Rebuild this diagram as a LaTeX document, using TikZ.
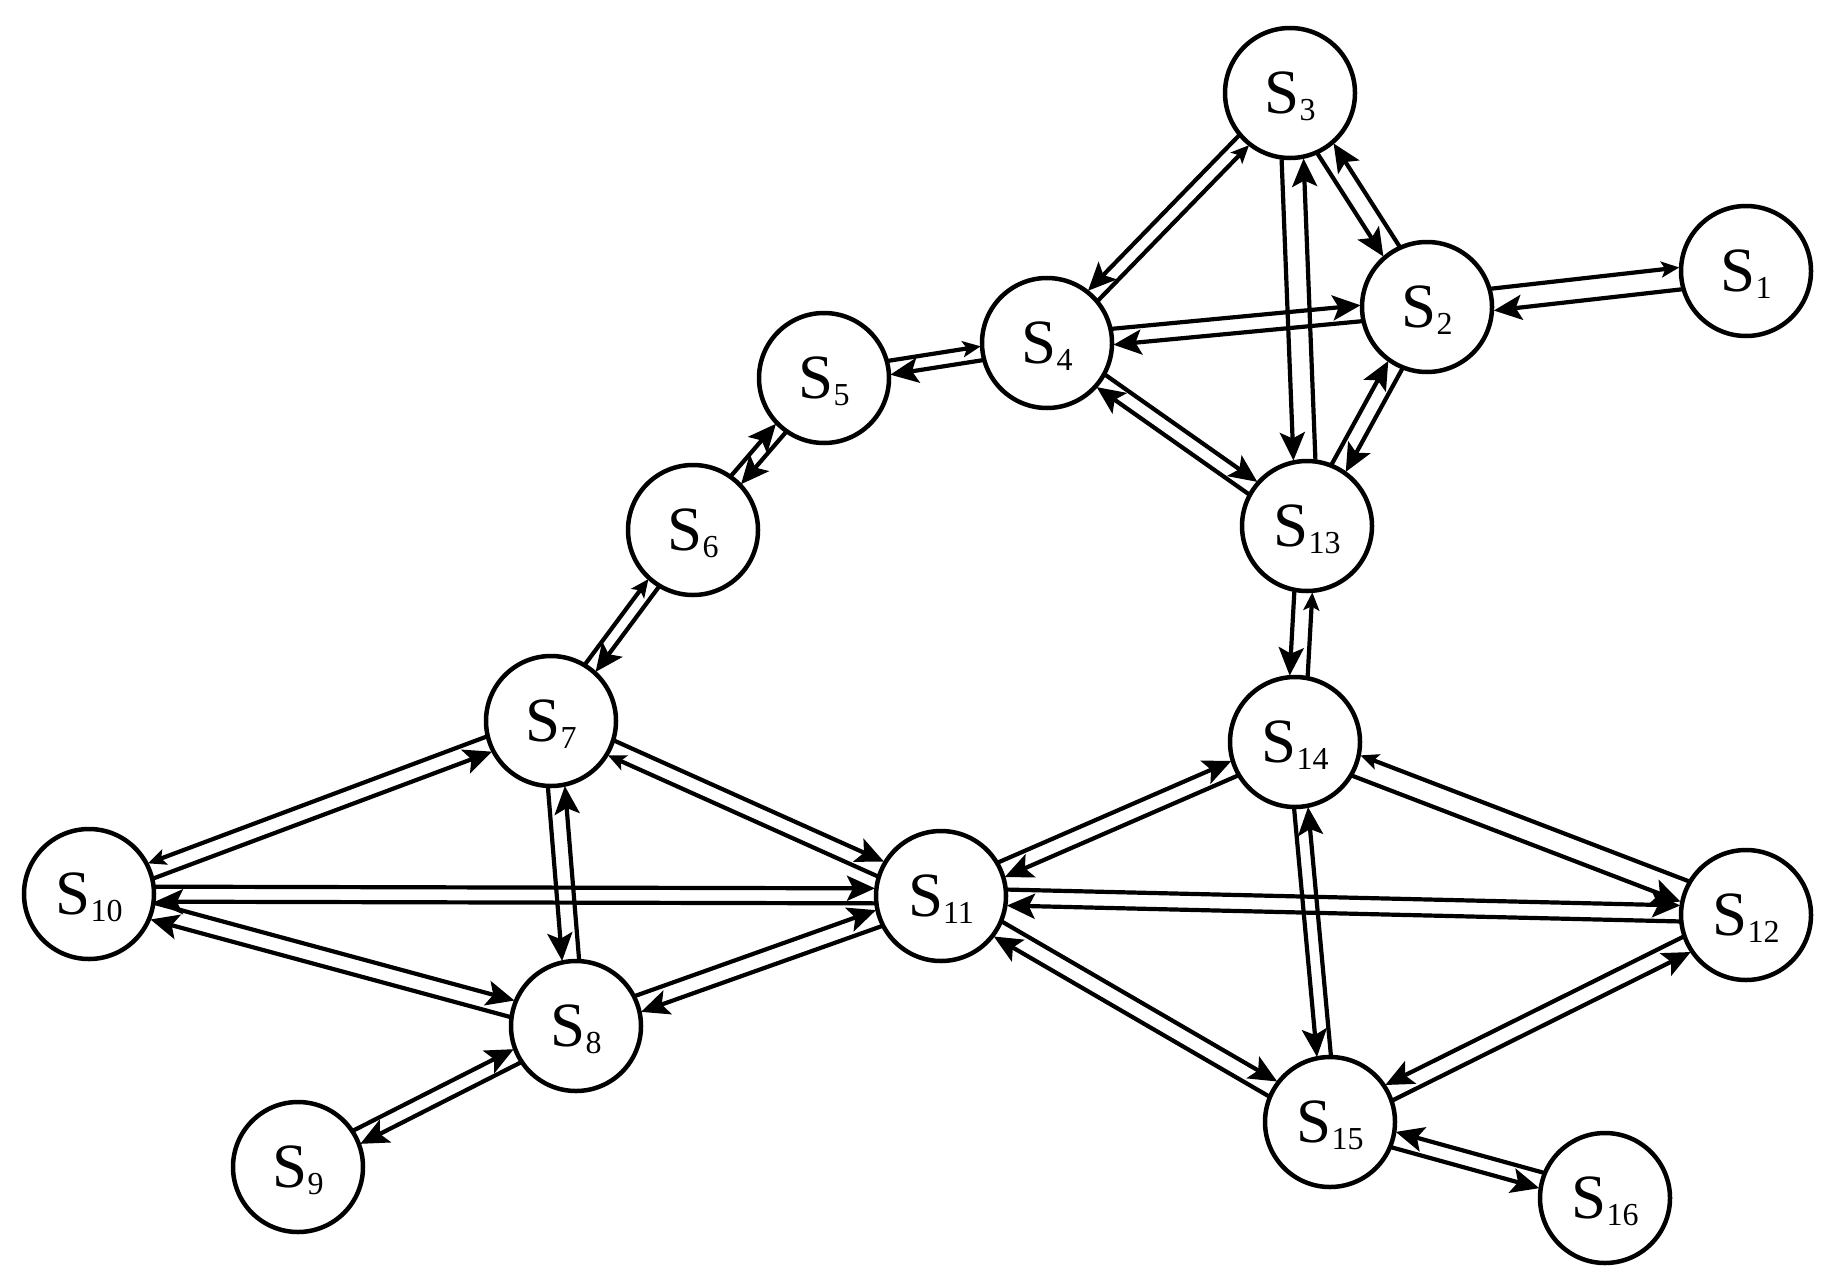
\documentclass[tikz,border=0pt]{standalone}
\usepackage{fontspec}
\setmainfont{Liberation Serif}
\usetikzlibrary{calc,arrows.meta}
\newcommand\lab[1]{S\raisebox{-7pt}[0pt][0pt]{\fontsize{32}{32}\selectfont #1}}
% #1 A, #2 B, #3 signed half separation (positive: A->B line on the left), #4 tip at B, #5 tip at A
\newcommand\pair[5]{%
  \draw[edge,#4] ($(#1)!#3!90:(#2)$) -- ($(#2)!#3!-90:(#1)$);
  \draw[edge,#5] ($(#2)!#3!90:(#1)$) -- ($(#1)!#3!-90:(#2)$);
}
\begin{document}
\begin{tikzpicture}[x=1pt,y=-1pt,
  st/.style={circle,draw,line width=4.5pt,minimum size=130pt,inner sep=0pt,font=\fontsize{63}{63}\selectfont},
  edge/.style={line width=4.2pt,shorten <=66pt,shorten >=66pt},
  tipbig/.style={-{Stealth[length=28pt,width=25pt,inset=6pt]}},
  tipsm/.style={-{Stealth[length=18pt,width=16pt,inset=4pt]}}]
\useasboundingbox (0,0) rectangle (1839,1282);
\node[st] (S1)  at (1746,271)  {\lab{1}};
\node[st] (S2)  at (1427,307)  {\lab{2}};
\node[st] (S3)  at (1290,93)   {\lab{3}};
\node[st] (S4)  at (1047,343)  {\lab{4}};
\node[st] (S5)  at (824,378)   {\lab{5}};
\node[st] (S6)  at (693,530)   {\lab{6}};
\node[st] (S7)  at (551,721)   {\lab{7}};
\node[st] (S8)  at (576,1026)  {\lab{8}};
\node[st] (S9)  at (298,1167)  {\lab{9}};
\node[st] (S10) at (89,894)    {\lab{10}};
\node[st] (S11) at (941,896)   {\lab{11}};
\node[st] (S12) at (1746,915)  {\lab{12}};
\node[st] (S13) at (1307,526)  {\lab{13}};
\node[st] (S14) at (1295,742)  {\lab{14}};
\node[st] (S15) at (1330,1122) {\lab{15}};
\node[st] (S16) at (1605,1198) {\lab{16}};
\pair{S2}{S1}{11pt}{tipsm}{tipbig}
\pair{S3}{S2}{-9.5pt}{tipbig}{tipbig}
\pair{S3}{S4}{-7pt}{tipbig}{tipsm}
\pair{S3}{S13}{-11pt}{tipbig}{tipbig}
\pair{S4}{S2}{8pt}{tipbig}{tipbig}
\pair{S4}{S13}{7.5pt}{tipbig}{tipbig}
\pair{S2}{S13}{8pt}{tipbig}{tipbig}
\pair{S5}{S4}{7pt}{tipsm}{tipbig}
\pair{S6}{S5}{6.5pt}{tipbig}{tipbig}
\pair{S7}{S6}{6.5pt}{tipsm}{tipbig}
\pair{S10}{S7}{-8pt}{tipbig}{tipsm}
\pair{S7}{S11}{8pt}{tipbig}{tipsm}
\pair{S7}{S8}{-8.5pt}{tipbig}{tipbig}
\pair{S10}{S11}{7.5pt}{tipbig}{tipbig}
\pair{S10}{S8}{8.5pt}{tipbig}{tipbig}
\pair{S8}{S11}{8.5pt}{tipbig}{tipbig}
\pair{S9}{S8}{7.5pt}{tipbig}{tipbig}
\pair{S13}{S14}{-9pt}{tipbig}{tipsm}
\pair{S11}{S14}{8pt}{tipbig}{tipbig}
\pair{S14}{S12}{-11pt}{tipbig}{tipsm}
\pair{S11}{S12}{8pt}{tipbig}{tipbig}
\pair{S14}{S15}{-7pt}{tipbig}{tipbig}
\pair{S11}{S15}{8.5pt}{tipbig}{tipbig}
\pair{S12}{S15}{-8.5pt}{tipbig}{tipbig}
\pair{S15}{S16}{-8pt}{tipbig}{tipbig}
\end{tikzpicture}
\end{document}
